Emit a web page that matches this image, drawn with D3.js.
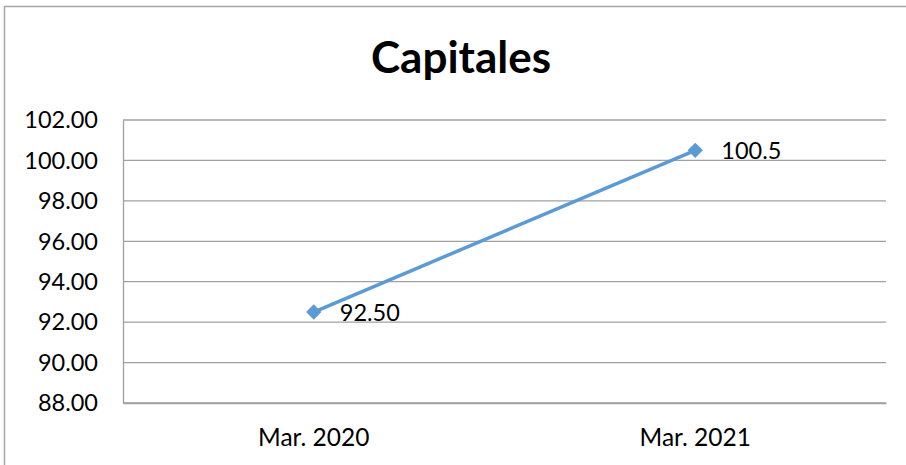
<!DOCTYPE html>
<html>
<head>
<meta charset="utf-8">
<script src="https://cdn.jsdelivr.net/npm/d3@7"></script>
<style>
  body { margin: 0; background: #fff; }
  text { font-family: Lato, "Open Sans", sans-serif; fill: #000; }
</style>
</head>
<body>
<svg id="chart"></svg>
<script>
const categories = ['Mar. 2020', 'Mar. 2021'];
const values = [92.5, 100.5];
const pointLabels = ['92.50', '100.5'];
const yTicks = [88, 90, 92, 94, 96, 98, 100, 102];

const width = 906;
const height = 465;
const margin = { top: 120, right: 20, bottom: 62, left: 123 };
const innerWidth = 886 - margin.left;
const innerHeight = 403 - margin.top;

const svg = d3.select('#chart').attr('width', width).attr('height', height);

// outer chart border: only its left and top edges fall inside the picture
svg.append('path')
  .attr('d', `M4.5,${height} V6.5 H${width}`)
  .attr('fill', 'none')
  .attr('stroke', '#a6a6a6')
  .attr('stroke-width', 1.5);

svg.append('text')
  .attr('x', 461)
  .attr('y', 73)
  .attr('text-anchor', 'middle')
  .style('font-size', '44px')
  .style('font-weight', 'bold')
  .text('Capitales');

const inner = svg.append('g').attr('transform', `translate(${margin.left}, ${margin.top})`);

const xScale = d3.scaleBand().domain(categories).range([0, innerWidth]);
const yScale = d3.scaleLinear().domain([88, 102]).range([innerHeight, 0]);

// gridlines
inner.selectAll('.grid')
  .data(yTicks)
  .join('line')
  .attr('class', 'grid')
  .attr('x1', 0).attr('x2', innerWidth)
  .attr('y1', d => yScale(d)).attr('y2', d => yScale(d))
  .attr('stroke', '#a0a0a0')
  .attr('stroke-width', 1.3);

// y axis line, labels drawn at the svg level
const yAxis = d3.axisLeft(yScale).tickValues(yTicks).tickFormat('').tickSize(0);
const yg = inner.append('g').attr('class', 'y-axis').call(yAxis);
yg.select('.domain').attr('stroke', '#a0a0a0').attr('stroke-width', 1.3);

svg.selectAll('.y-label')
  .data(yTicks)
  .join('text')
  .attr('class', 'y-label')
  .attr('x', margin.left - 25)
  .attr('y', d => margin.top + yScale(d))
  .attr('dy', '0.35em')
  .attr('text-anchor', 'end')
  .style('font-size', '23.5px')
  .text(d3.format('.2f'));

const xAxis = d3.axisBottom(xScale).tickSize(0).tickPadding(26);
const xg = inner.append('g').attr('class', 'x-axis')
  .attr('transform', `translate(0, ${innerHeight})`).call(xAxis);
xg.select('.domain').attr('stroke', '#a0a0a0').attr('stroke-width', 1.3);
xg.selectAll('text').style('font-size', '24.5px');

const cx = d => xScale(d) + xScale.bandwidth() / 2;
const pts = categories.map((c, i) => ({ c, v: values[i], label: pointLabels[i] }));

inner.append('path')
  .datum(pts)
  .attr('fill', 'none')
  .attr('stroke', '#5b9bd5')
  .attr('stroke-width', 3.5)
  .attr('d', d3.line().x(d => cx(d.c)).y(d => yScale(d.v)));

inner.selectAll('.marker')
  .data(pts)
  .join('path')
  .attr('class', 'marker')
  .attr('transform', d => `translate(${cx(d.c)}, ${yScale(d.v)})`)
  .attr('d', d3.symbol(d3.symbolDiamond2, 150))
  .attr('fill', '#5b9bd5');

inner.selectAll('.pt-label')
  .data(pts)
  .join('text')
  .attr('class', 'pt-label')
  .attr('x', d => cx(d.c) + 26)
  .attr('y', d => yScale(d.v))
  .attr('dy', '0.38em')
  .style('font-size', '23.5px')
  .text(d => d.label);
</script>
</body>
</html>
